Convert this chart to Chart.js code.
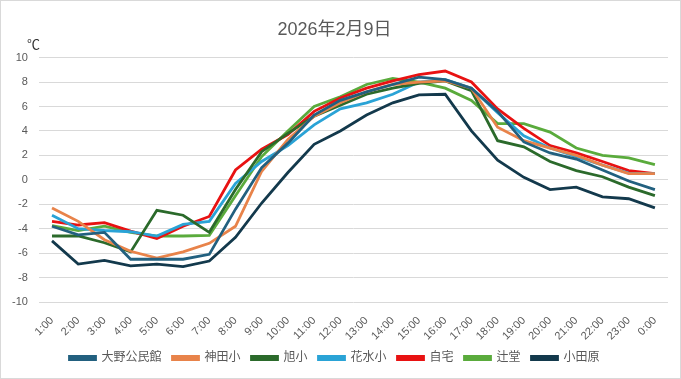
<!DOCTYPE html>
<html><head><meta charset="utf-8">
<script src="https://cdn.jsdelivr.net/npm/chart.js@4/dist/chart.umd.min.js"></script>
<style>
html,body{margin:0;padding:0;background:#fff;}
#wrap{width:681px;height:379px;box-sizing:border-box;border:1px solid #d9d9d9;position:relative;}
canvas{display:block;}
</style></head>
<body>
<div id="wrap"><canvas id="c" width="679" height="377"></canvas></div>
<script>
const hours = ['1:00','2:00','3:00','4:00','5:00','6:00','7:00','8:00','9:00','10:00','11:00','12:00','13:00','14:00','15:00','16:00','17:00','18:00','19:00','20:00','21:00','22:00','23:00','0:00'];
const ono      = [-3.8,-4.5,-4.3,-6.5,-6.5,-6.5,-6.1,-2.4,1.0,3.0,5.3,6.5,7.2,7.8,8.4,8.2,7.5,5.6,3.1,2.2,1.7,0.8,-0.1,-0.8];
const kanda    = [-2.3,-3.4,-4.9,-5.85,-6.4,-5.9,-5.2,-3.8,0.7,3.3,5.2,6.3,7.2,7.8,8.0,8.1,7.5,4.3,3.2,2.6,2.0,1.2,0.5,0.5];
const asahi    = [-4.6,-4.6,-5.15,-5.9,-2.5,-2.9,-4.3,-0.8,2.3,3.8,5.2,6.1,7.0,7.5,7.9,8.1,7.3,3.2,2.7,1.5,0.75,0.25,-0.6,-1.3];
const hanamizu = [-2.9,-4.0,-4.15,-4.25,-4.6,-3.65,-3.4,-0.3,1.5,2.8,4.5,5.8,6.3,7.0,8.0,8.2,7.5,5.5,3.6,2.6,1.9,1.2,0.55,0.5];
const jitaku   = [-3.4,-3.7,-3.5,-4.2,-4.8,-3.8,-3.0,0.8,2.5,3.7,5.6,6.7,7.5,8.1,8.6,8.9,8.0,5.8,4.2,2.8,2.2,1.5,0.75,0.5];
const tsujido  = [-3.75,-4.15,-3.8,-4.3,-4.6,-4.6,-4.55,-1.3,1.9,4.0,6.0,6.8,7.8,8.3,8.0,7.5,6.5,4.6,4.6,3.9,2.6,2.0,1.8,1.25];
const odawara  = [-5.0,-6.9,-6.6,-7.05,-6.9,-7.1,-6.65,-4.7,-1.9,0.6,2.9,4.0,5.3,6.3,6.95,7.0,4.0,1.6,0.2,-0.8,-0.6,-1.4,-1.55,-2.3];
const seriesNames = ['大野公民館','神田小','旭小','花水小','自宅','辻堂','小田原'];
const seriesData = [ono,kanda,asahi,hanamizu,jitaku,tsujido,odawara];
const colors = ['#22607f','#e8834a','#2b6a2b','#2aa3d6','#e81212','#5aab3c','#13394c'];
const titleText = '2026年2月9日';
const unitText = '℃';
const FONT = "'Liberation Sans','Noto Sans CJK JP',sans-serif";

const unitPlugin = {
  id:'unit',
  afterDraw(chart){
    const ctx = chart.ctx;
    ctx.save();
    ctx.font = "13px " + FONT;
    ctx.fillStyle = '#333333';
    ctx.textAlign = 'left';
    ctx.textBaseline = 'middle';
    ctx.fillText(unitText, 26, 44);
    ctx.restore();
  }
};

new Chart(document.getElementById('c'), {
  type:'line',
  data:{
    labels: hours,
    datasets: seriesNames.map((n,i)=>({
      label:n, data:seriesData[i], borderColor:colors[i], backgroundColor:colors[i],
      borderWidth:2.8, pointRadius:0, tension:0, fill:false
    }))
  },
  options:{
    responsive:false, animation:false,
    layout:{padding:{left:0,right:12,top:8,bottom:4}},
    plugins:{
      title:{display:true, text:titleText, color:'#595959', font:{family:FONT,size:18,weight:'normal'}, padding:{top:10,bottom:17}},
      legend:{position:'bottom', labels:{color:'#595959', font:{family:FONT,size:12}, boxWidth:26, boxHeight:3, padding:11}},
      tooltip:{enabled:false}
    },
    scales:{
      x:{offset:true, grid:{display:false}, border:{display:false},
         afterFit(scale){ scale.height = 39; },
         ticks:{color:'#595959', font:{family:FONT,size:11}, minRotation:45, maxRotation:45, autoSkip:false, padding:4}},
      y:{min:-10,max:10, grid:{color:'#d9d9d9', drawTicks:false}, border:{display:false},
         ticks:{stepSize:2, color:'#595959', font:{family:FONT,size:11}, padding:11}}
    }
  },
  plugins:[unitPlugin]
});
</script>
</body></html>
